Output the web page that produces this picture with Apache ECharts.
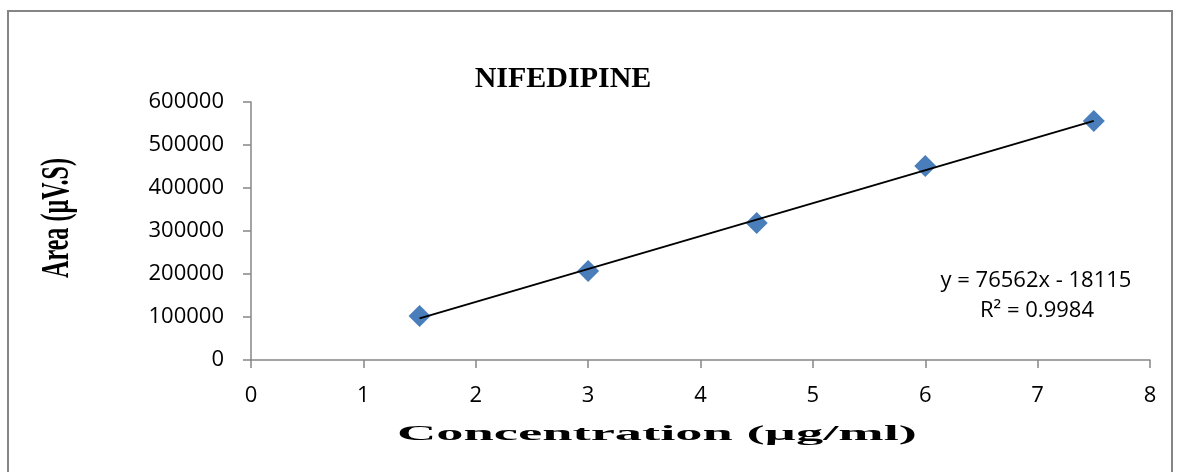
<!DOCTYPE html>
<html>
<head>
<meta charset="utf-8">
<script src="https://cdn.jsdelivr.net/npm/echarts@6/dist/echarts.min.js"></script>
<style>
  html, body { margin: 0; padding: 0; background: #fff; }
  #chart { width: 1180px; height: 472px; }
</style>
</head>
<body>
<div id="chart"></div>
<script>
// Calibration data: concentration (µg/ml) vs. peak area (µV.S)
const concentrations = [1.5, 3, 4.5, 6, 7.5];
const areas = [102300, 207000, 318600, 451000, 555800];

// Linear trendline as reported
const slope = 76562;
const intercept = -18115;
const rSquared = '0.9984';

const xTicks = { min: 0, max: 8, interval: 1 };
const yTicks = { min: 0, max: 600000, interval: 100000 };

const titleText = 'NIFEDIPINE';
const xAxisTitle = 'Concentration (µg/ml)';
const yAxisTitle = 'Area (µV.S)';

const trendStart = concentrations[0];
const trendEnd = concentrations[concentrations.length - 1];
const trendData = [
  [trendStart, slope * trendStart + intercept],
  [trendEnd, slope * trendEnd + intercept]
];

// Measure text so stretched axis titles can be fitted to a target span
function textWidth(text, font) {
  const ctx = document.createElement('canvas').getContext('2d');
  ctx.font = font;
  return ctx.measureText(text).width;
}

const xTitleFont = 'bold 22px "Liberation Serif"';
const xTitleScale = 520 / textWidth(xAxisTitle, xTitleFont);
const yTitleFont = 'bold 40px "Liberation Serif"';
const yTitleScale = 120 / textWidth(yAxisTitle, yTitleFont);

const axisGrey = '#868686';
const tickFont = '"Open Sans", "Noto Sans", sans-serif';

const chart = echarts.init(document.getElementById('chart'), null, { renderer: 'canvas' });

chart.setOption({
  backgroundColor: '#ffffff',
  animation: false,
  grid: { left: 251, right: 30, top: 102, bottom: 112, containLabel: false },
  xAxis: {
    type: 'value',
    min: xTicks.min, max: xTicks.max, interval: xTicks.interval,
    axisLine: { show: true, onZero: false, lineStyle: { color: axisGrey, width: 1.5 } },
    axisTick: { show: true, length: 8, lineStyle: { color: axisGrey, width: 1.5 } },
    splitLine: { show: false },
    axisLabel: { color: '#000', fontFamily: tickFont, fontSize: 22, margin: 25 }
  },
  yAxis: {
    type: 'value',
    min: yTicks.min, max: yTicks.max, interval: yTicks.interval,
    axisLine: { show: true, onZero: false, lineStyle: { color: axisGrey, width: 1.5 } },
    axisTick: { show: true, length: 8, lineStyle: { color: axisGrey, width: 1.5 } },
    splitLine: { show: false },
    axisLabel: {
      color: '#000', fontFamily: tickFont, fontSize: 22, margin: 27,
      formatter: (v) => String(v)
    }
  },
  series: [
    {
      name: 'Trendline',
      type: 'line',
      data: trendData,
      symbol: 'none',
      lineStyle: { color: '#000', width: 2 },
      z: 3
    },
    {
      name: 'Area',
      type: 'scatter',
      data: concentrations.map((c, i) => [c, areas[i]]),
      symbol: 'diamond',
      symbolSize: 22,
      itemStyle: { color: '#4A7EBB', opacity: 1 },
      z: 2
    }
  ],
  graphic: [
    {
      type: 'rect',
      shape: { x: 8, y: 11, width: 1164, height: 480 },
      style: { fill: 'none', stroke: '#858585', lineWidth: 2 },
      silent: true
    },
    {
      type: 'text',
      x: 563, y: 79,
      style: {
        text: titleText,
        font: 'bold 30px "Liberation Serif"',
        fill: '#000',
        textAlign: 'center',
        textVerticalAlign: 'middle'
      }
    },
    {
      type: 'text',
      x: 1036, y: 281,
      style: {
        text: 'y = ' + slope + 'x - ' + Math.abs(intercept),
        font: '22px ' + tickFont,
        fill: '#000',
        textAlign: 'center',
        textVerticalAlign: 'middle'
      }
    },
    {
      type: 'text',
      x: 1037, y: 311,
      style: {
        text: 'R² = ' + rSquared,
        font: '22px ' + tickFont,
        fill: '#000',
        textAlign: 'center',
        textVerticalAlign: 'middle'
      }
    },
    {
      type: 'text',
      x: 657, y: 434,
      scaleX: xTitleScale,
      style: {
        text: xAxisTitle,
        font: xTitleFont,
        fill: '#000',
        textAlign: 'center',
        textVerticalAlign: 'middle'
      }
    },
    {
      type: 'text',
      x: 58, y: 218,
      rotation: Math.PI / 2,
      scaleX: yTitleScale,
      style: {
        text: yAxisTitle,
        font: yTitleFont,
        fill: '#000',
        textAlign: 'center',
        textVerticalAlign: 'middle'
      }
    }
  ]
});
</script>
</body>
</html>
